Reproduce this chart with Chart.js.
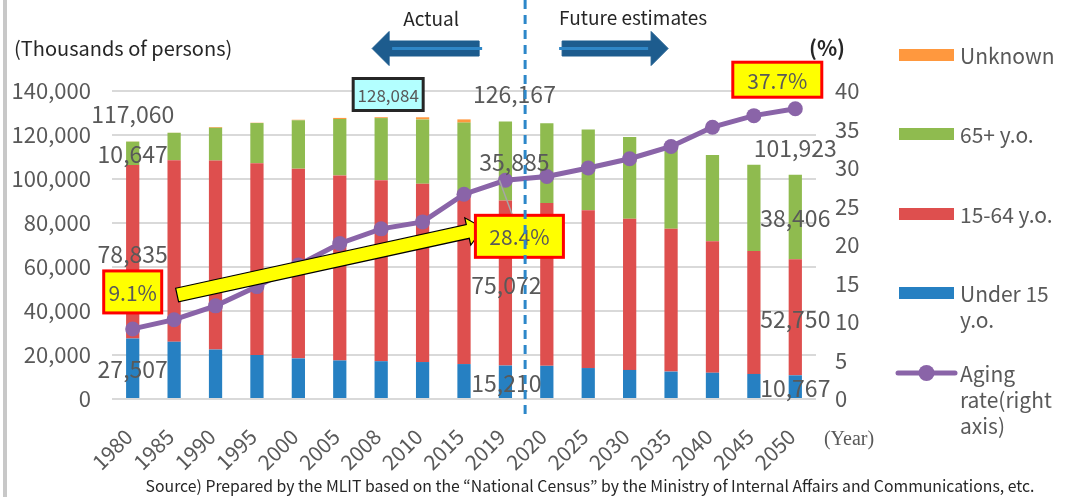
<!DOCTYPE html>
<html>
<head>
<meta charset="utf-8">
<script src="https://cdn.jsdelivr.net/npm/chart.js@4.4.0/dist/chart.umd.min.js"></script>
<style>
  html, body { margin: 0; padding: 0; background: #fff; }
</style>
</head>
<body>
<canvas id="chart" width="1067" height="497"></canvas>
<script>
// Japan population by age group (thousands of persons) and aging rate (%)
const years = ["1980", "1985", "1990", "1995", "2000", "2005", "2008", "2010", "2015", "2019",
               "2020", "2025", "2030", "2035", "2040", "2045", "2050"];
const under15 = [27507, 26033, 22486, 20014, 18472, 17521, 17176, 16803, 15887, 15210,
                 15075, 14073, 13212, 12457, 11936, 11384, 10767];
const age15to64 = [78835, 82506, 85904, 87165, 86220, 84092, 82300, 81032, 76289, 75072,
                   74058, 71701, 68754, 64942, 59777, 55845, 52750];
const age65plus = [10647, 12468, 14895, 18261, 22005, 25672, 28216, 29246, 33465, 35885,
                   36192, 36771, 37160, 37817, 39206, 39192, 38406];
const unknown = [71, 42, 326, 130, 229, 483, 392, 976, 1454, 0, 0, 0, 0, 0, 0, 0, 0];
const agingRate = [9.1, 10.3, 12.1, 14.6, 17.4, 20.2, 22.1, 23.0, 26.6, 28.4,
                   28.9, 30.0, 31.2, 32.8, 35.3, 36.8, 37.7];
const peakLabel = "128,084"; // 2008 peak
const labelledYears = ["1980", "2019", "2050"];

const FONT = '"Noto Sans CJK JP", "Noto Sans", sans-serif';
const GREY = "#595959";
const DARK = "#262626";
const C_BLUE = "#2680C2";
const C_RED = "#DE4F4E";
const C_GREEN = "#8FBB4F";
const C_ORANGE = "#FF983E";
const C_PURPLE = "#8A64A8";

const fmt = (v) => v.toLocaleString("en-US");

function drawBox(ctx, cx, cy, w, h, fill, stroke, lw, text, size) {
  ctx.fillStyle = fill;
  ctx.fillRect(cx - w / 2, cy - h / 2, w, h);
  ctx.strokeStyle = stroke;
  ctx.lineWidth = lw;
  ctx.strokeRect(cx - w / 2, cy - h / 2, w, h);
  ctx.fillStyle = GREY;
  ctx.font = size + "px " + FONT;
  ctx.textAlign = "center";
  ctx.textBaseline = "middle";
  ctx.fillText(text, cx, cy + 1);
}

function fatArrow(ctx, x1, y1, x2, y2, shaft, head, headLen) {
  const ang = Math.atan2(y2 - y1, x2 - x1);
  const len = Math.hypot(x2 - x1, y2 - y1);
  ctx.save();
  ctx.translate(x1, y1);
  ctx.rotate(ang);
  ctx.beginPath();
  ctx.moveTo(0, -shaft / 2);
  ctx.lineTo(len - headLen, -shaft / 2);
  ctx.lineTo(len - headLen, -head / 2);
  ctx.lineTo(len, 0);
  ctx.lineTo(len - headLen, head / 2);
  ctx.lineTo(len - headLen, shaft / 2);
  ctx.lineTo(0, shaft / 2);
  ctx.closePath();
  ctx.restore();
}

const overlay = {
  id: "overlay",
  afterDatasetsDraw(chart) {
    const ctx = chart.ctx;
    const xs = chart.scales.x, ys = chart.scales.y, y2 = chart.scales.y2;
    ctx.save();

    // value labels on first, last actual and last estimate bars
    ctx.font = "23px " + FONT;
    ctx.fillStyle = GREY;
    ctx.textAlign = "center";
    ctx.textBaseline = "middle";
    const shift = [0, 9, 0];
    labelledYears.forEach((yr, k) => {
      const i = years.indexOf(yr);
      const x = xs.getPixelForValue(i);
      const a = under15[i], b = age15to64[i], c = age65plus[i];
      const total = a + b + c + unknown[i];
      ctx.fillText(fmt(a), x + (k === 1 ? 1 : 0), ys.getPixelForValue(a / 2) + 1);
      ctx.fillText(fmt(b), x + (k === 1 ? 1 : 0), ys.getPixelForValue(a + b / 2) + 2);
      ctx.fillText(fmt(c), x + shift[k], ys.getPixelForValue(a + b + c / 2) + 1);
      ctx.fillText(fmt(total), x + shift[k], ys.getPixelForValue(total) - 27);
    });

    // leader line 2019 point -> box
    const i19 = years.indexOf("2019");
    const p19x = xs.getPixelForValue(i19), p19y = y2.getPixelForValue(agingRate[i19]);
    ctx.strokeStyle = "#A6A6A6";
    ctx.lineWidth = 1.5;
    ctx.beginPath();
    ctx.moveTo(p19x - 6, p19y);
    ctx.lineTo(p19x + 7, p19y + 35);
    ctx.stroke();

    // yellow trend arrow
    fatArrow(ctx, xs.getPixelForValue(1) + 3, y2.getPixelForValue(13.5),
             xs.getPixelForValue(i19) - 22, y2.getPixelForValue(22.2), 14, 28, 16);
    ctx.fillStyle = "#FFFF00";
    ctx.fill();
    ctx.strokeStyle = "#000";
    ctx.lineWidth = 1.2;
    ctx.stroke();

    // aging rate call-outs
    const i80 = 0, i50 = years.length - 1;
    drawBox(ctx, xs.getPixelForValue(i80), y2.getPixelForValue(agingRate[i80]) - 37,
            58, 42, "#FFFF00", "#FF0000", 3, agingRate[i80].toFixed(1) + "%", 21);
    drawBox(ctx, p19x + 14, p19y + 56, 88, 42, "#FFFF00", "#FF0000", 3,
            agingRate[i19].toFixed(1) + "%", 21);
    drawBox(ctx, xs.getPixelForValue(i50) - 18, y2.getPixelForValue(agingRate[i50]) - 29,
            89, 35, "#FFFF00", "#FF0000", 3, agingRate[i50].toFixed(1) + "%", 21);

    // peak population box
    drawBox(ctx, xs.getPixelForValue(years.indexOf("2008")) + 7, ys.getPixelForValue(140000) + 3.5,
            70, 32, "#B3FFFF", "#262626", 3, peakLabel, 17);

    // actual / estimate divider
    const divX = (xs.getPixelForValue(i19) + xs.getPixelForValue(i19 + 1)) / 2 - 1;
    ctx.strokeStyle = "#2C87C9";
    ctx.lineWidth = 3;
    ctx.setLineDash([9, 6]);
    ctx.beginPath();
    ctx.moveTo(divX, 0);
    ctx.lineTo(divX, 420);
    ctx.stroke();
    ctx.setLineDash([]);

    // header arrows
    [[divX - 46, divX - 153], [divX + 37, divX + 143]].forEach(([from, to]) => {
      fatArrow(ctx, from, 48.5, to, 48.5, 15, 34, 17);
      ctx.fillStyle = "#1D5C8E";
      ctx.fill();
      ctx.strokeStyle = "#1D5C8E";
      ctx.lineWidth = 1;
      ctx.stroke();
      ctx.strokeStyle = "#2F86C6";
      ctx.lineWidth = 3;
      ctx.beginPath();
      const dir = Math.sign(to - from);
      ctx.moveTo(from - dir * 3, 48.5);
      ctx.lineTo(to - dir * 20, 48.5);
      ctx.stroke();
    });

    // texts
    ctx.fillStyle = DARK;
    ctx.font = "19px " + FONT;
    ctx.textBaseline = "middle";
    ctx.textAlign = "center";
    ctx.fillText("Actual", divX - 94, 19);
    ctx.fillText("Future estimates", divX + 108, 18);
    ctx.textAlign = "left";
    ctx.font = "20px " + FONT;
    ctx.fillText("(Thousands of persons)", 14, 48);
    ctx.font = "bold 21px " + FONT;
    ctx.textAlign = "center";
    ctx.fillText("(%)", 827, 48);
    ctx.fillStyle = GREY;
    ctx.font = "20px \"Liberation Serif\", serif";
    ctx.fillText("(Year)", 849, 440);
    ctx.fillStyle = DARK;
    ctx.font = "15.8px " + FONT;
    ctx.fillText("Source) Prepared by the MLIT based on the \u201cNational Census\u201d by the Ministry of Internal Affairs and Communications, etc.", 590, 486);

    // legend
    const legend = [
      { color: C_ORANGE, y: 55, lines: ["Unknown"] },
      { color: C_GREEN, y: 134, lines: ["65+ y.o."] },
      { color: C_RED, y: 214, lines: ["15-64 y.o."] },
      { color: C_BLUE, y: 293, lines: ["Under 15", "y.o."] },
      { color: C_PURPLE, y: 373, lines: ["Aging", "rate(right", "axis)"], line: true },
    ];
    ctx.font = "21px " + FONT;
    ctx.textAlign = "left";
    ctx.textBaseline = "middle";
    legend.forEach((it) => {
      if (it.line) {
        ctx.strokeStyle = it.color;
        ctx.lineWidth = 5;
        ctx.lineCap = "round";
        ctx.beginPath();
        ctx.moveTo(898, it.y);
        ctx.lineTo(955, it.y);
        ctx.stroke();
        ctx.fillStyle = it.color;
        ctx.beginPath();
        ctx.arc(926.5, it.y, 8, 0, Math.PI * 2);
        ctx.fill();
      } else {
        ctx.fillStyle = it.color;
        ctx.fillRect(899, it.y - 6, 55, 12);
      }
      ctx.fillStyle = GREY;
      it.lines.forEach((t, j) => ctx.fillText(t, 960, it.y + 1 + j * 26));
    });

    // page edge
    ctx.fillStyle = "#C8C8C8";
    ctx.fillRect(3, 0, 4, 497);
    ctx.restore();
  },
};

const barDefaults = { stack: "pop", barPercentage: 0.32, categoryPercentage: 1.0, order: 1, borderWidth: 0 };

new Chart(document.getElementById("chart"), {
  type: "bar",
  data: {
    labels: years,
    datasets: [
      { ...barDefaults, label: "Under 15 y.o.", data: under15, backgroundColor: C_BLUE },
      { ...barDefaults, label: "15-64 y.o.", data: age15to64, backgroundColor: C_RED },
      { ...barDefaults, label: "65+ y.o.", data: age65plus, backgroundColor: C_GREEN },
      { ...barDefaults, label: "Unknown", data: unknown, backgroundColor: C_ORANGE },
      {
        type: "line",
        label: "Aging rate(right axis)",
        data: agingRate,
        yAxisID: "y2",
        order: 0,
        borderColor: C_PURPLE,
        backgroundColor: C_PURPLE,
        borderWidth: 5,
        pointRadius: 7.5,
        pointBackgroundColor: C_PURPLE,
        pointBorderWidth: 0,
        tension: 0,
      },
    ],
  },
  options: {
    responsive: false,
    animation: false,
    layout: { padding: { top: 91, left: 0, right: 0, bottom: 0 } },
    plugins: { legend: { display: false }, tooltip: { enabled: false } },
    scales: {
      x: {
        stacked: true,
        grid: { display: false },
        border: { display: false },
        ticks: {
          color: GREY,
          font: { family: FONT, size: 21 },
          minRotation: 45,
          maxRotation: 45,
          autoSkip: false,
          padding: 17,
          labelOffset: -4,
        },
        afterFit(s) { s.height = 98; },
      },
      y: {
        stacked: true,
        min: 0,
        max: 140000,
        grid: { color: "#D9D9D9", lineWidth: 2, drawTicks: false },
        border: { display: false },
        ticks: {
          stepSize: 20000,
          color: GREY,
          font: { family: FONT, size: 22 },
          padding: 21,
          callback: (v) => fmt(v),
        },
        afterFit(s) { s.width = 112; },
      },
      y2: {
        position: "right",
        min: 0,
        max: 40,
        grid: { display: false, drawTicks: false },
        border: { display: false },
        ticks: {
          stepSize: 5,
          color: GREY,
          font: { family: FONT, size: 22 },
          padding: 19,
        },
        afterFit(s) { s.width = 251; },
      },
    },
  },
  plugins: [overlay],
});
</script>
</body>
</html>
